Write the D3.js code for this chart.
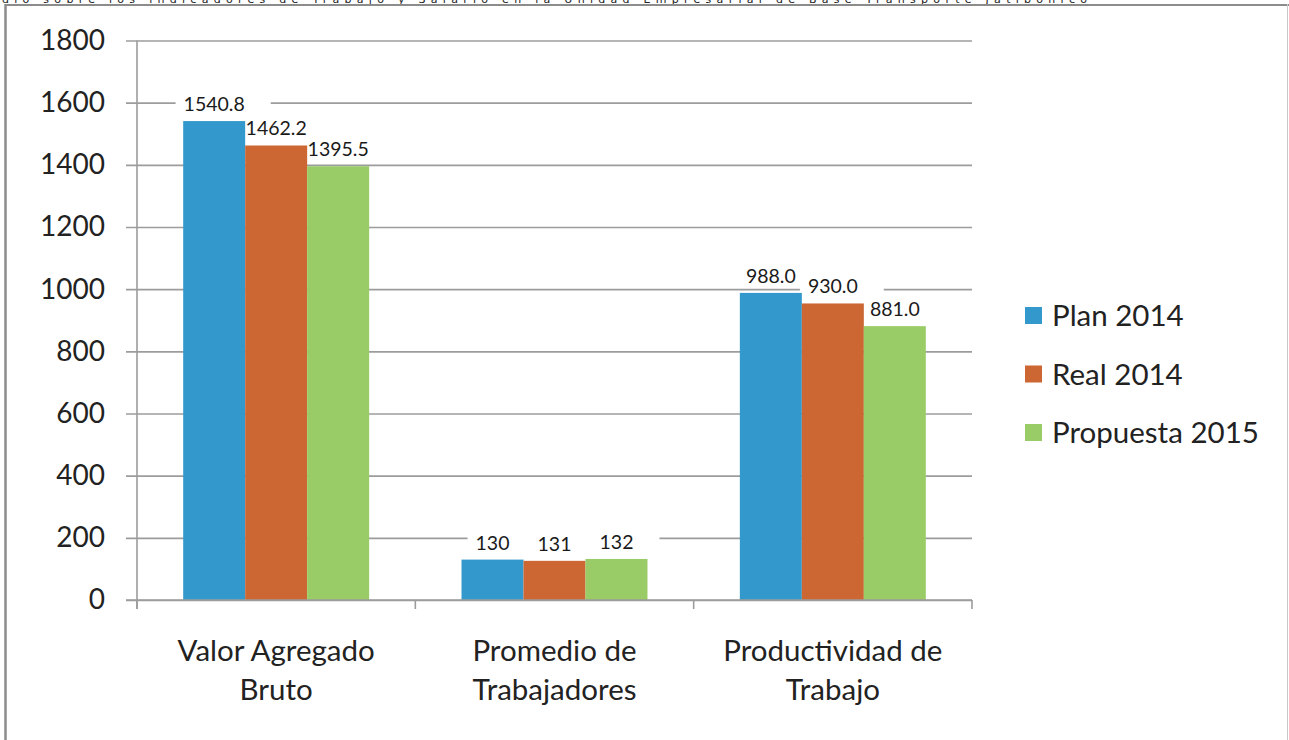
<!DOCTYPE html>
<html>
<head>
<meta charset="utf-8">
<script src="https://cdn.jsdelivr.net/npm/d3@7"></script>
<style>
  body { margin: 0; background: #fff; }
  svg { display: block; font-family: Lato, "Open Sans", sans-serif; }
</style>
</head>
<body>
<svg width="1289" height="740"></svg>
<script>
var width = 1289;
var height = 740;
var margin = { top: 40.5, bottom: 140, left: 137, right: 317 };

var title = 'dio sobre los indicadores de Trabajo y Salario en la Unidad Empresarial de Base Transporte Jatibonico';

// categories (two lines each) and series
var categories = ['Valor Agregado Bruto', 'Promedio de Trabajadores', 'Productividad de Trabajo'];
var categoryLines = [['Valor Agregado', 'Bruto'], ['Promedio de', 'Trabajadores'], ['Productividad de', 'Trabajo']];
var seriesNames = ['Plan 2014', 'Real 2014', 'Propuesta 2015'];
var colors = ['#3399cc', '#cc6633', '#99cc66'];

// labelled values
var plan2014 = [1540.8, 130, 988.0];
var real2014 = [1462.2, 131, 930.0];
var propuesta2015 = [1395.5, 132, 881.0];
// bar heights as drawn in the picture (the orange bars sit lower than their labels)
var real2014Bars = [1462.2, 126, 954];
var labelFormats = ['.1f', 'd', '.1f'];
var yTicks = [0, 200, 400, 600, 800, 1000, 1200, 1400, 1600, 1800];

var labelSeries = [plan2014, real2014, propuesta2015];
var barSeries = [plan2014, real2014Bars, propuesta2015];

var svg = d3.select('svg');

// frame lines and cut-off title
svg.append('text')
  .attr('x', 2).attr('y', 3)
  .attr('font-size', 11)
  .attr('font-family', '"DejaVu Sans", sans-serif')
  .attr('fill', '#222')
  .attr('textLength', 1085)
  .attr('lengthAdjust', 'spacing')
  .text(title);
svg.append('line').attr('x1', 5).attr('x2', width).attr('y1', 5).attr('y2', 5)
  .attr('stroke', '#8c8c8c').attr('stroke-width', 2);
svg.append('line').attr('x1', 5.5).attr('x2', 5.5).attr('y1', 4).attr('y2', height)
  .attr('stroke', '#8c8c8c').attr('stroke-width', 2.5);
svg.append('line').attr('x1', 1287.5).attr('x2', 1287.5).attr('y1', 4).attr('y2', height)
  .attr('stroke', '#c8c8c8').attr('stroke-width', 1);

// scales
var x0 = d3.scaleBand()
  .domain(categories)
  .range([margin.left, width - margin.right]);
var x1 = d3.scaleBand()
  .domain(seriesNames)
  .range([0, x0.bandwidth()])
  .paddingOuter(0.745);
var yScale = d3.scaleLinear()
  .domain([0, 1800])
  .range([600, margin.top]);

var gridColor = '#9c9c9c';

// y axis with gridlines
var yAxis = d3.axisLeft(yScale)
  .tickValues(yTicks)
  .tickFormat(d3.format('d'))
  .tickSizeInner(-(width - margin.right - margin.left))
  .tickSizeOuter(0)
  .tickPadding(32);
var gy = svg.append('g')
  .attr('transform', 'translate(' + margin.left + ',0)')
  .call(yAxis);
gy.select('.domain').remove();
gy.selectAll('.tick line')
  .attr('x1', -11)
  .attr('stroke', gridColor)
  .attr('stroke-width', 1.6);
gy.selectAll('.tick text')
  .attr('font-size', 28)
  .attr('font-family', 'Lato, sans-serif')
  .attr('fill', '#222');

// white boxes behind data labels knock out the gridlines (under the bars)
var boxLayer = svg.append('g');
var barLayer = svg.append('g');
var labelLayer = svg.append('g');

// bars
var groups = barLayer.selectAll('g')
  .data(categories)
  .join('g')
  .attr('transform', d => 'translate(' + x0(d) + ',0)');

groups.each(function(cat, ci) {
  var g = d3.select(this);
  seriesNames.forEach((s, si) => {
    var v = barSeries[si][ci];
    g.append('rect')
      .attr('x', x1(s))
      .attr('width', x1.bandwidth())
      .attr('y', yScale(v))
      .attr('height', yScale(0) - yScale(v))
      .attr('fill', colors[si]);
  });
});

// axes lines
svg.append('line')
  .attr('x1', margin.left).attr('x2', margin.left)
  .attr('y1', yScale(1800)).attr('y2', yScale(0) + 9)
  .attr('stroke', gridColor).attr('stroke-width', 1.6);
svg.append('line')
  .attr('x1', margin.left - 11).attr('x2', width - margin.right)
  .attr('y1', yScale(0)).attr('y2', yScale(0))
  .attr('stroke', gridColor).attr('stroke-width', 1.6);
var bounds = categories.map(c => x0(c)).concat([x0.range()[1]]);
svg.append('g').selectAll('line')
  .data(bounds)
  .join('line')
  .attr('x1', d => d).attr('x2', d => d)
  .attr('y1', yScale(0)).attr('y2', yScale(0) + 9)
  .attr('stroke', gridColor).attr('stroke-width', 1.6);

// category labels
var gx = svg.append('g');
categories.forEach((c, ci) => {
  var t = gx.append('text')
    .attr('text-anchor', 'middle')
    .attr('font-size', 29.5)
    .attr('fill', '#222');
  categoryLines[ci].forEach((line, li) => {
    t.append('tspan')
      .attr('x', x0(c) + x0.bandwidth() / 2)
      .attr('y', 661 + li * 39)
      .text(line);
  });
});

// data labels
categories.forEach((c, ci) => {
  seriesNames.forEach((s, si) => {
    var cx = x0(c) + x1(s) + x1.bandwidth() / 2;
    var yTop = yScale(barSeries[si][ci]);
    var txt = labelLayer.append('text')
      .attr('x', cx)
      .attr('y', yTop - 10)
      .attr('text-anchor', 'middle')
      .attr('font-size', 19.5)
      .attr('fill', '#1a1a1a')
      .text(d3.format(labelFormats[ci])(labelSeries[si][ci]));
    var bb = txt.node().getBBox();
    boxLayer.append('rect')
      .attr('x', bb.x - 8)
      .attr('y', bb.y + 1)
      .attr('width', bb.width + 34)
      .attr('height', bb.height - 2)
      .attr('fill', '#fff');
  });
});

// legend
var legend = svg.append('g').selectAll('g')
  .data(seriesNames)
  .join('g')
  .attr('transform', (d, i) => 'translate(1025,' + (307 + i * 58.5) + ')');
legend.append('rect')
  .attr('width', 17).attr('height', 17)
  .attr('fill', (d, i) => colors[i]);
legend.append('text')
  .attr('x', 27).attr('y', 19)
  .attr('font-size', 29.5)
  .attr('fill', '#222')
  .text(d => d);
</script>
</body>
</html>
